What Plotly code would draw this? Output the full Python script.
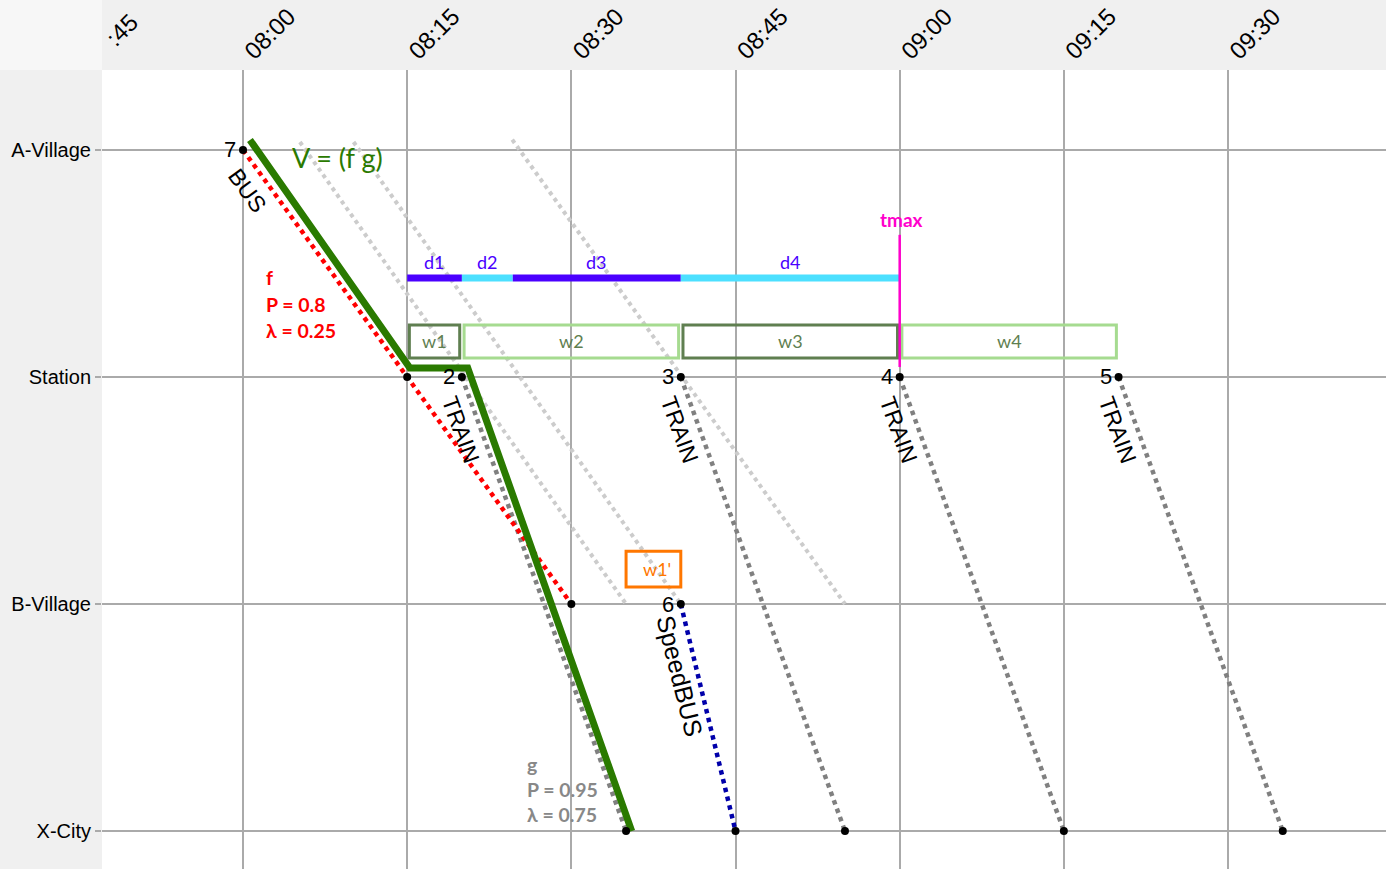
import plotly.graph_objects as go
import pandas as pd

DAY = "2024-01-01 "

def ts(s):
    return pd.Timestamp(DAY + s)

# ---------------- data ----------------
stations = ["A-Village", "Station", "B-Village", "X-City"]
pos = {s: i for i, s in enumerate(stations)}

# BUS (7)
bus_id = "7"
bus_name = "BUS"
bus_times = ["08:00", "08:15", "08:30"]
bus_stops = ["A-Village", "Station", "B-Village"]

# TRAINs (2..5)
train_ids = ["2", "3", "4", "5"]
train_name = "TRAIN"
train_dep = ["08:20", "08:40", "09:00", "09:20"]
train_arr = ["08:35", "08:55", "09:15", "09:35"]
train_from = "Station"
train_to = "X-City"

# SpeedBUS (6)
speedbus_id = "6"
speedbus_name = "SpeedBUS"
speedbus_times = ["08:40", "08:45"]
speedbus_stops = ["B-Village", "X-City"]

# faint alternative runs (start slightly above A-Village, end at B-Village)
ghost_start = ["08:05:12", "08:10:06", "08:24:36"]
ghost_end = ["08:35", "08:40", "08:55"]
ghost_start_pos = [-0.035, -0.035, -0.045]
ghost_end_pos = [2.0, 2.0, 2.0]

# combined journey V = (f g)
v_label = "V = (f g)"
v_times = ["08:00:38", "08:15:15", "08:20:32", "08:35:31"]
v_pos = [-0.044, 0.96, 0.96, 3.0]

# delay segments
d_labels = ["d1", "d2", "d3", "d4"]
d_start = ["08:15", "08:20", "08:24:39", "08:40"]
d_end = ["08:20", "08:24:39", "08:40", "09:00"]
d_row = 0.564

# waiting windows
w_labels = ["w1", "w2", "w3", "w4"]
w_start = ["08:15", "08:20", "08:40", "09:00"]
w_end = ["08:20", "08:40", "09:00", "09:20"]
w_row = (0.771, 0.916)

w1p_label = "w1'"
w1p_start, w1p_end = "08:35", "08:40"
w1p_row = (1.767, 1.925)

tmax_label = "tmax"
tmax_time = "09:00"
tmax_span = (0.374, 0.956)

f_stats = ["f", "P = 0.8", "λ = 0.25"]
g_stats = ["g", "P = 0.95", "λ = 0.75"]

x_range = ["07:47:07", "09:44:26"]

# ---------------- styles ----------------
ARIAL = "Liberation Sans, Arial, sans-serif"
CAL = "Lato, Carlito, Calibri, sans-serif"
GRID = "#aaaaaa"
RED = "#ff0000"
TRAIN_GRAY = "#808080"
GHOST = "#cccccc"
SB_BLUE = "#0000aa"
GREEN = "#2a7a00"
PURPLE = "#4a00ff"
CYAN = "#4ce0ff"
W_DARK = "#5f7f50"
W_LIGHT = "#a6db90"
MAGENTA = "#ff00cc"
ORANGE = "#ff7700"

fig = go.Figure()

# ghost lines
for s, e, ys, ye in zip(ghost_start, ghost_end, ghost_start_pos, ghost_end_pos):
    fig.add_trace(go.Scatter(x=[ts(s), ts(e)], y=[ys, ye], mode="lines",
                             line=dict(color=GHOST, width=4, dash="dot"),
                             hoverinfo="skip"))

# trains
for tid, d, a in zip(train_ids, train_dep, train_arr):
    fig.add_trace(go.Scatter(x=[ts(d), ts(a)], y=[pos[train_from], pos[train_to]],
                             mode="lines", line=dict(color=TRAIN_GRAY, width=4.5, dash="dot"),
                             name=f"{train_name} {tid}"))

# speedbus
fig.add_trace(go.Scatter(x=[ts(t) for t in speedbus_times], y=[pos[s] for s in speedbus_stops],
                         mode="lines", line=dict(color=SB_BLUE, width=4.5, dash="dot"),
                         name=speedbus_name))

# bus
fig.add_trace(go.Scatter(x=[ts(t) for t in bus_times], y=[pos[s] for s in bus_stops],
                         mode="lines", line=dict(color=RED, width=4.5, dash="dot"),
                         name=bus_name))

# green journey
fig.add_trace(go.Scatter(x=[ts(t) for t in v_times], y=v_pos, mode="lines",
                         line=dict(color=GREEN, width=7), name=v_label))

# d segments
for i, (lab, s, e) in enumerate(zip(d_labels, d_start, d_end)):
    fig.add_trace(go.Scatter(x=[ts(s), ts(e)], y=[d_row, d_row], mode="lines",
                             line=dict(color=PURPLE if i % 2 == 0 else CYAN, width=7),
                             name=lab))

# stop dots
dot_x, dot_y = [], []
for t, s in zip(bus_times, bus_stops):
    dot_x.append(ts(t)); dot_y.append(pos[s])
for d, a in zip(train_dep, train_arr):
    dot_x += [ts(d), ts(a)]; dot_y += [pos[train_from], pos[train_to]]
for t, s in zip(speedbus_times, speedbus_stops):
    dot_x.append(ts(t)); dot_y.append(pos[s])
fig.add_trace(go.Scatter(x=dot_x, y=dot_y, mode="markers",
                         marker=dict(color="black", size=8), hoverinfo="skip"))

shapes = []
inset = pd.Timedelta(seconds=12)
for i, (lab, s, e) in enumerate(zip(w_labels, w_start, w_end)):
    col = W_DARK if i % 2 == 0 else W_LIGHT
    shapes.append(dict(type="rect", xref="x", yref="y",
                       x0=ts(s) + inset, x1=ts(e) - inset, y0=w_row[0], y1=w_row[1],
                       line=dict(color=col, width=3), fillcolor="rgba(0,0,0,0)"))
shapes.append(dict(type="rect", xref="x", yref="y", x0=ts(w1p_start), x1=ts(w1p_end),
                   y0=w1p_row[0], y1=w1p_row[1], line=dict(color=ORANGE, width=3),
                   fillcolor="rgba(0,0,0,0)"))
shapes.append(dict(type="line", xref="x", yref="y", x0=ts(tmax_time), x1=ts(tmax_time),
                   y0=tmax_span[0], y1=tmax_span[1], line=dict(color=MAGENTA, width=2.5)))
# lighter top-left corner
shapes.append(dict(type="rect", xref="paper", yref="paper", x0=-102 / 1284, x1=0,
                   y0=1, y1=1 + 70 / 799, fillcolor="#f7f7f7", line=dict(width=0),
                   layer="below"))

ann = []
def A(**kw):
    base = dict(showarrow=False, xref="x", yref="y")
    base.update(kw)
    ann.append(base)

# w labels
for lab, s, e in zip(w_labels, w_start, w_end):
    mid = ts(s) + (ts(e) - ts(s)) / 2
    A(x=mid, y=sum(w_row) / 2, text=lab, font=dict(family=CAL, size=18, color=W_DARK))
mid = ts(w1p_start) + (ts(w1p_end) - ts(w1p_start)) / 2
A(x=mid, y=sum(w1p_row) / 2, text=w1p_label, xshift=4, font=dict(family=CAL, size=18, color=ORANGE))

# d labels
for lab, s, e in zip(d_labels, d_start, d_end):
    mid = ts(s) + (ts(e) - ts(s)) / 2
    A(x=mid, y=d_row, text=lab, yshift=16, font=dict(family=CAL, size=18, color=PURPLE))

A(x=ts(tmax_time), y=tmax_span[0], text=f"<b>{tmax_label}</b>", yshift=15, xshift=2,
  font=dict(family=CAL, size=19, color=MAGENTA))

# V label
A(x=ts(v_times[0]), y=v_pos[0], text=v_label, xanchor="left", xshift=40, yshift=-18,
  font=dict(family=CAL, size=27, color=GREEN))

# f / g stats
for i, line in enumerate(f_stats):
    A(x=ts(bus_times[0]), y=pos[bus_stops[0]], text=f"<b>{line}</b>", xanchor="left",
      xshift=21, yshift=-128 - 26.5 * i, font=dict(family=CAL, size=19.5, color=RED))
for i, line in enumerate(g_stats):
    A(x=ts(train_arr[0]), y=pos[train_to], text=f"<b>{line}</b>", xanchor="left",
      xshift=-101, yshift=67 - 25 * i, font=dict(family=CAL, size=19.5, color="#888888"))

NUMF = dict(family=ARIAL, size=22, color="black")
NAMEF = dict(family=ARIAL, size=23, color="black")
# number labels
A(x=ts(bus_times[0]), y=pos[bus_stops[0]], text=bus_id, xanchor="right", xshift=-5, font=NUMF)
for tid, d in zip(train_ids, train_dep):
    A(x=ts(d), y=pos[train_from], text=tid, xanchor="right", xshift=-5, font=NUMF)
A(x=ts(speedbus_times[0]), y=pos[speedbus_stops[0]], text=speedbus_id, xanchor="right",
  xshift=-5, font=NUMF)

# rotated names
A(x=ts(bus_times[0]), y=pos[bus_stops[0]], text=bus_name, textangle=54, xshift=4, yshift=-40,
  font=NAMEF)
for d in train_dep:
    A(x=ts(d), y=pos[train_from], text=train_name, textangle=70, xshift=-1, yshift=-53, font=NAMEF)
A(x=ts(speedbus_times[0]), y=pos[speedbus_stops[0]], text=speedbus_name, textangle=76,
  xshift=-1, yshift=-72, font=dict(family=ARIAL, size=25, color="black"))

# clipped 07:45 tick label remnant
ann.append(dict(xref="paper", yref="paper", x=(121 - 102) / 1284, y=1 + (70 - 30) / 799,
                text=":45", textangle=-45, showarrow=False, xanchor="center", yanchor="middle",
                font=dict(family=ARIAL, size=24, color="black")))

fig.update_layout(
    width=1386, height=869,
    margin=dict(l=102, r=0, t=70, b=0),
    paper_bgcolor="#f0f0f0", plot_bgcolor="white",
    showlegend=False,
    shapes=shapes, annotations=ann,
    xaxis=dict(type="date", side="top", range=[ts(x_range[0]), ts(x_range[1])],
               tickformat="%H:%M", dtick=900000, tick0=DAY + "07:45",
               tickangle=-45, ticks="", showgrid=True, gridcolor=GRID, gridwidth=1.5,
               zeroline=False, showline=False, ticklabelshift=3,
               tickfont=dict(family=ARIAL, size=24, color="black")),
    yaxis=dict(range=[3.167, -0.352], tickvals=list(range(len(stations))), ticktext=stations,
               showgrid=True, gridcolor=GRID, gridwidth=1.5, zeroline=False,
               ticks="outside", ticklen=6, tickcolor=GRID, tickwidth=1.5,
               tickfont=dict(family=ARIAL, size=20, color="black")),
)

fig.write_html("out.html", config={"displayModeBar": False},
               post_script="document.body.style.margin='0';")
